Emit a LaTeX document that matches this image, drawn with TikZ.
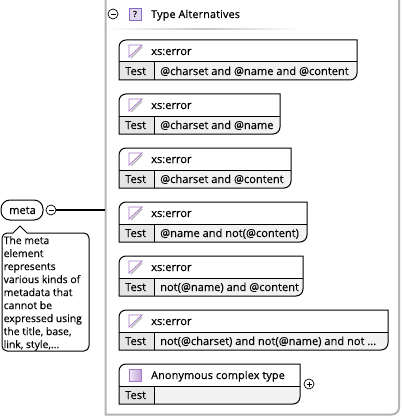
\documentclass[tikz,border=0pt]{standalone}
\usepackage{fontspec}
\setmainfont[RawFeature={embolden=0.15}]{Open Sans}
\newfontfamily\headfont[RawFeature={embolden=0.6},LetterSpace=1.5]{Open Sans}
\usetikzlibrary{calc}
\definecolor{panelgray}{HTML}{B4B4B4}
\definecolor{testgray}{HTML}{E6E6E6}
\definecolor{rowgray}{HTML}{F2F2F2}
\definecolor{iconpurple}{HTML}{A678C8}
\definecolor{helpblue}{HTML}{8468C4}
\tikzset{
  boxtext/.style={inner sep=0pt,anchor=base west,font=\fontsize{11.1}{12}\selectfont,text=black},
  headtext/.style={boxtext,font=\fontsize{10.8}{12}\selectfont\headfont},
  toggle/.style={circle,draw,line width=0.7pt,fill=white,minimum size=10pt,inner sep=0pt},
  outline/.style={line width=1pt,black},
}
% one alternative: name, top edge, right edge, icon, title, test text, title style
\newcommand{\altbox}[7][boxtext]{
  \coordinate (#2tl) at (119,#3);
  \coordinate (#2br) at (#4,#3+40);
  \fill[rowgray] (154,#3+22) -- (#4,#3+22) [rounded corners=7pt] -- (#4,#3+40) [sharp corners] -- (154,#3+40) -- cycle;
  \fill[testgray] (119,#3+22) rectangle (154,#3+40);
  \draw[outline] (119,#3+40) [rounded corners=7pt] -- (119,#3) [sharp corners] -- (#4,#3) [rounded corners=7pt] -- (#4,#3+40) [sharp corners] -- (119,#3+40) -- cycle;
  \draw[outline] (119,#3+22) -- (#4,#3+22);
  \draw[outline] (154,#3+22) -- (154,#3+40);
  #5{#3}
  \node[#1] (#2title) at (151,#3+15) {#6};
  \node[boxtext] (#2test) at (125,#3+35) {Test};
  \node[boxtext] (#2value) at (160,#3+35) {#7};
}
\newcommand{\erroricon}[1]{
  \draw[gray!60,line width=1.2pt] (142,#1+7) -- (131,#1+18);
  \draw[iconpurple,line width=0.8pt] (129,#1+5) -- (142,#1+5) -- (129,#1+17) -- cycle;
}
\newcommand{\typeicon}[1]{
  \shade[left color=white!85!iconpurple,right color=iconpurple!70,draw=iconpurple,line width=0.8pt] (129,#1+5) rectangle (141,#1+17);
}
\begin{document}
\begin{tikzpicture}[x=1pt,y=-1pt]
  \useasboundingbox (0,0) rectangle (401,417);
  \fill[white] (0,0) rectangle (401,417);

  % panel round the alternatives
  \draw[panelgray,line width=2pt] (105.5,-2) [sharp corners] -- (105.5,414.5) [rounded corners=7pt] -- (399,414.5) [sharp corners] -- (399,-2);
  \shade[left color=white,right color=white,middle color=black!22] (107,28.5) rectangle (300,30);

  % head of the panel
  \node[toggle] (panelminus) at (113,14) {};
  \draw[line width=0.7pt] (110.5,14) -- (115.5,14);
  \node[draw=helpblue,fill=helpblue!25,minimum size=12pt,inner sep=0pt,font=\fontsize{8.5}{8}\selectfont] (panelicon) at (135,14) {?};
  \node[headtext] (paneltitle) at (151,18) {Type Alternatives};

  % alternatives
  \altbox{one}{40}{357}{\erroricon}{xs:error}{@charset and @name and @content}
  \altbox{two}{94}{280}{\erroricon}{xs:error}{@charset and @name}
  \altbox{three}{148}{291}{\erroricon}{xs:error}{@charset and @content}
  \altbox{four}{202}{307}{\erroricon}{xs:error}{@name and not(@content)}
  \altbox{five}{256}{303}{\erroricon}{xs:error}{not(@name) and @content}
  \altbox{six}{310}{388}{\erroricon}{xs:error}{not(@charset) and not(@name) and not ...}
  \altbox[headtext]{seven}{364}{300}{\typeicon}{Anonymous complex type}{}

  \node[toggle] (sevenplus) at (309,384) {};
  \draw[line width=0.7pt] (306.5,384) -- (311.5,384) (309,381.5) -- (309,386.5);

  % meta element
  \draw[outline,rounded corners=9pt] (1,200) rectangle (43,220);
  \node[boxtext] (meta) at (9,214) {meta};
  \node[toggle] (metaminus) at (51,210) {};
  \draw[line width=0.7pt] (48.5,210) -- (53.5,210);
  \coordinate (panelin) at (105,210);
  \draw[line width=2pt] (metaminus) -- (panelin);

  % documentation bubble
  \draw[outline,fill=white] (27,233) [rounded corners=5pt] -- (89,233) -- (89,351) -- (2,351) -- (2,233) [sharp corners] -- (13,233) -- (20,226) -- cycle;
  \node[boxtext,anchor=north west,align=left,font=\fontsize{10.4}{13}\selectfont] (metadoc) at (3.5,236)
    {The meta\\element\\represents\\various kinds of\\metadata that\\cannot be\\expressed using\\the title, base,\\link, style,...};
\end{tikzpicture}
\end{document}
